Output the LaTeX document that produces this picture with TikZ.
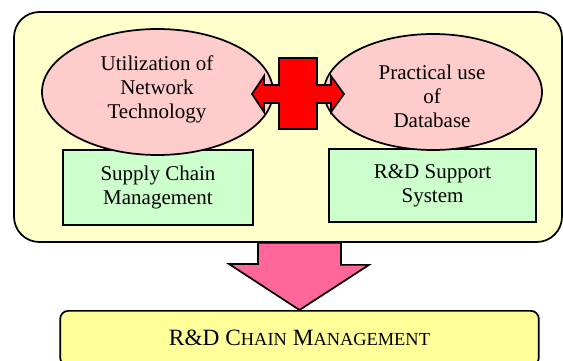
\documentclass[tikz,border=0pt]{standalone}
\usepackage{fontspec}
\setmainfont{Liberation Serif}
\usepackage{tikz}
\usetikzlibrary{shapes.geometric,calc,backgrounds}
\definecolor{paleyellow}{HTML}{FFFFCC}
\definecolor{lemon}     {HTML}{FFFF99}
\definecolor{palepink}  {HTML}{FFCCCC}
\definecolor{palegreen} {HTML}{CCFFCC}
\definecolor{hotpink}   {HTML}{FF6699}
\definecolor{crossred}  {HTML}{FF0000}
% smaller capitals for the title line
\newcommand{\smc}[1]{{\fontsize{13.8}{16}\selectfont #1}}

\begin{document}
\begin{tikzpicture}[x=0.75pt,y=-0.75pt,
  txt/.style={font=\fontsize{15.75}{18}\selectfont,align=center},
  frm/.style={draw,line width=1.3pt,fill=paleyellow,rounded corners=19pt,
              minimum width=411pt,minimum height=172.5pt},
  blob/.style={ellipse,draw,line width=1.3pt,fill=palepink,inner sep=0pt},
  box/.style={txt,draw,line width=1.3pt,fill=palegreen,inner sep=0pt},
  goalbox/.style={draw,line width=1.3pt,fill=lemon,rounded corners=6pt,
              minimum width=359pt,minimum height=41pt,
              font=\fontsize{17.5}{20}\selectfont},
  bigarr/.style={draw,line width=1.3pt,line join=miter}
]
\useasboundingbox (0,0) rectangle (563,360);

\node[frm] (frame) at (288,127) {};
\node[goalbox,anchor=north] (goal) at (299.5,310)
  {R\&D C\smc{HAIN} M\smc{ANAGEMENT}};

\node[box,minimum width=142.5pt,minimum height=56.25pt] (scm) at (158,187.5)
  {Supply Chain\\Management};
\node[box,minimum width=155.25pt,minimum height=54.75pt] (rds) at (432.5,185.5)
  {R\&D Support\\System};

\node[blob,minimum width=173.25pt,minimum height=94.5pt] (net) at (157.5,92) {};
\node[blob,minimum width=163.5pt,minimum height=87pt] (db)  at (433,92) {};
\node[txt] (nettxt) at (157,89) {Utilization of\\Network\\Technology};
\node[txt] (dbtxt)  at (432,96) {Practical use\\of\\Database};

% cross with arrow heads between the two ellipses
\coordinate (hub) at (298,94);
\draw[bigarr,fill=crossred] ($(hub)+(-19,-36)$) -- ++(38,0) -- ++(0,27)
  -- ++(14,0) -- ++(0,-9) -- ++(13,18) -- ++(-13,18) -- ++(0,-9)
  -- ++(-14,0) -- ++(0,26) -- ++(-38,0) -- ++(0,-26)
  -- ++(-15,0) -- ++(0,9) -- ++(-12,-18) -- ++(12,-18) -- ++(0,9)
  -- ++(15,0) -- cycle;

% block arrow down to the result
\begin{scope}[on background layer]
\draw[bigarr,fill=hotpink] ($(goal.north |- frame.south)+(-41.5,0)$)
  -- ++(83,0) -- ++(0,22) -- ++(28,0) -- (goal.north)
  -- ++(-70.5,-46) -- ++(29,0) -- cycle;
\end{scope}
\end{tikzpicture}
\end{document}
